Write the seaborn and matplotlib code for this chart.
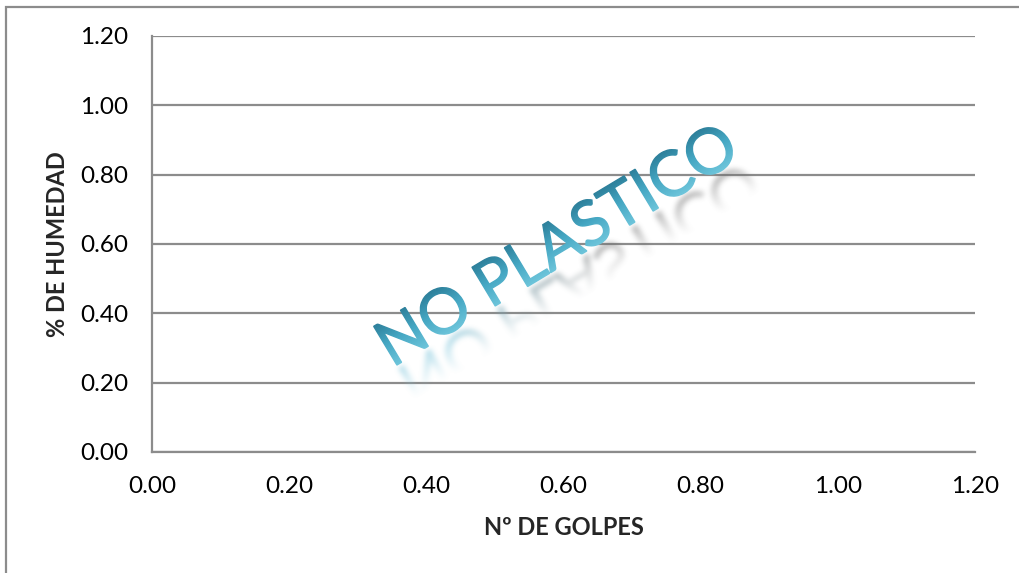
import numpy as np
import pandas as pd
import seaborn as sns
import matplotlib
matplotlib.use("Agg")
import matplotlib.pyplot as plt
from matplotlib.textpath import TextPath
from matplotlib.font_manager import FontProperties
from matplotlib.patches import PathPatch, Rectangle
from matplotlib.transforms import Affine2D
from matplotlib.colors import LinearSegmentedColormap, to_rgb

# Chart content
x_ticks = [0.0, 0.2, 0.4, 0.6, 0.8, 1.0, 1.2]
y_ticks = [0.0, 0.2, 0.4, 0.6, 0.8, 1.0, 1.2]
golpes = []      # no liquid-limit points: the soil is non-plastic
humedad = []
x_label = "Nº DE GOLPES"
y_label = "% DE HUMEDAD"
stamp = "NO PLASTICO"

sns.set_style("white")
plt.rcParams["font.family"] = ["Lato", "DejaVu Sans"]

W, H, DPI = 1019, 573, 100
fig = plt.figure(figsize=(W / DPI, H / DPI), dpi=DPI)
ax = fig.add_axes([152 / W, 1 - 452 / H, (975 - 152) / W, (452 - 36) / H])

df = pd.DataFrame({"golpes": pd.Series(golpes, dtype=float),
                   "humedad": pd.Series(humedad, dtype=float)})
sns.scatterplot(data=df, x="golpes", y="humedad", ax=ax)

grid_c = "#8c8c8c"
ax.set_xlim(x_ticks[0], x_ticks[-1])
ax.set_ylim(y_ticks[0], y_ticks[-1])
ax.set_xticks(x_ticks)
ax.set_yticks(y_ticks)
ax.set_xticklabels([f"{v:.2f}" for v in x_ticks])
ax.set_yticklabels([f"{v:.2f}" for v in y_ticks])
ax.tick_params(axis="both", length=0, labelsize=17.5, colors="black")
ax.tick_params(axis="x", pad=17)
ax.tick_params(axis="y", pad=17)
ax.yaxis.grid(True, color=grid_c, linewidth=1.6)
ax.xaxis.grid(False)
for side in ("top", "right"):
    ax.spines[side].set_visible(False)
for side in ("left", "bottom"):
    ax.spines[side].set_color(grid_c)
    ax.spines[side].set_linewidth(1.6)
ax.set_xlabel(x_label, fontsize=17, fontweight="bold", labelpad=14)
ax.set_ylabel(y_label, fontsize=17, fontweight="bold", labelpad=8)

# Outer chart-area border
fig.patches.append(Rectangle((6 / W, -0.1), 1.2, 1 - 7 / H + 0.1,
                             transform=fig.transFigure, fill=False,
                             edgecolor="#8c8c8c", linewidth=1.6))

# ---- Diagonal "NO PLASTICO" stamp: gradient fill plus blurred reflection ----
fp = FontProperties(family="Lato", weight="normal")
size = 63
tp = TextPath((0, 0), stamp, size=size, prop=fp)
angle = 31
origin = (392, H - 368)  # display pixels, origin at bottom-left
rot = Affine2D().rotate_deg(angle).translate(*origin)
th = np.deg2rad(angle)

yy, xx = np.mgrid[0:H, 0:W] + 0.5
perp = -(xx - origin[0]) * np.sin(th) + (yy - origin[1]) * np.cos(th)
along = (xx - origin[0]) * np.cos(th) + (yy - origin[1]) * np.sin(th)


def path_mask(path, stroke=0.0):
    """Rasterise a display-space path into a float coverage mask."""
    f = plt.figure(figsize=(W / DPI, H / DPI), dpi=DPI)
    a = f.add_axes([0, 0, 1, 1])
    a.set_xlim(0, W)
    a.set_ylim(0, H)
    a.axis("off")
    a.add_patch(PathPatch(path, facecolor="black",
                          edgecolor="black" if stroke else "none",
                          linewidth=stroke))
    f.canvas.draw()
    buf = np.asarray(f.canvas.buffer_rgba())[:, :, 0].astype(float)
    plt.close(f)
    return (1 - buf / 255.0)[::-1]  # flip so row 0 is the bottom


def box_blur(arr, r, passes=3):
    out = arr.copy()
    k = np.ones(2 * r + 1) / (2 * r + 1)
    for _ in range(passes):
        out = np.apply_along_axis(lambda v: np.convolve(v, k, mode="same"), 0, out)
        out = np.apply_along_axis(lambda v: np.convolve(v, k, mode="same"), 1, out)
    return out


overlay = fig.add_axes([0, 0, 1, 1], facecolor="none")
overlay.set_xlim(0, W)
overlay.set_ylim(0, H)
overlay.axis("off")

# reflection mirrored about the baseline, blurred and faded
refl_path = (Affine2D().scale(1, -1).translate(0, -4) + rot).transform_path(tp)
rmask = box_blur(path_mask(refl_path, stroke=0.8), 2)
fade = np.clip(1 + perp / 40.0, 0, 1) ** 1.4
fade[perp > 0] = 0
t = np.clip((along - 60) / 180.0, 0, 1)[..., None]
c_blue = np.array(to_rgb("#7fc6dc"))
c_gray = np.array(to_rgb("#6a6a6a"))
rgb = c_blue * (1 - t) + c_gray * t
alpha = rmask * fade * (0.65 - 0.1 * t[..., 0])
overlay.imshow(np.dstack([rgb, alpha]), extent=(0, W, 0, H), origin="lower",
               interpolation="bilinear", zorder=2)

# main lettering, dark teal at the cap line fading to light blue at the baseline
mmask = path_mask(rot.transform_path(tp), stroke=1.0)
cmap_m = LinearSegmentedColormap.from_list("m", ["#6cc4da", "#45a7c3", "#2b7c97"])
g = np.clip(perp / 48.0, 0, 1)
rgba_m = cmap_m(g)
rgba_m[..., 3] = mmask
overlay.imshow(rgba_m, extent=(0, W, 0, H), origin="lower",
               interpolation="bilinear", zorder=3)

fig.savefig("out.png", dpi=DPI, facecolor="white")
